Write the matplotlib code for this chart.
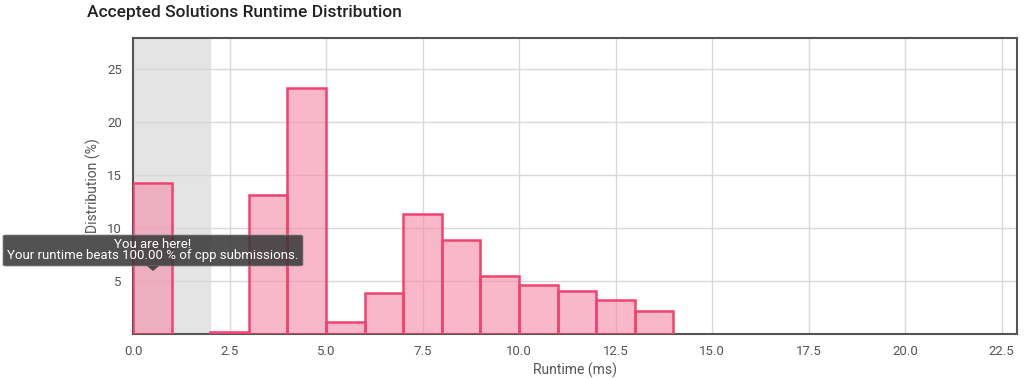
import matplotlib
matplotlib.use('Agg')
import matplotlib.pyplot as plt
from matplotlib.patches import FancyBboxPatch, Polygon

plt.rcParams['font.family'] = ['Roboto', 'DejaVu Sans']

bin_left = [0, 2, 3, 4, 5, 6, 7, 8, 9, 10, 11, 12, 13]
dist = [14.2, 0.15, 13.1, 23.2, 1.15, 3.9, 11.3, 8.85, 5.5, 4.6, 4.1, 3.25, 2.15]
x_ticks = [0.0, 2.5, 5.0, 7.5, 10.0, 12.5, 15.0, 17.5, 20.0, 22.5]
y_ticks = [5, 10, 15, 20, 25]

fig = plt.figure(figsize=(10.24, 3.78), dpi=100)
ax = fig.add_axes([0.1299, 0.1164, 0.8633, 0.7831])

ax.axvspan(0, 2, color='#e4e4e4', zorder=0)
# fill and outline drawn separately so the outline stays solid
ax.bar(bin_left, dist, width=1.0, align='edge', color='#f48aa8', alpha=0.6,
       linewidth=0, zorder=2)
ax.bar(bin_left, dist, width=1.0, align='edge', color='none',
       edgecolor='#f2426f', linewidth=1.8, zorder=3)

ax.set_xlim(0, 22.9)
ax.set_ylim(0, 27.9)
ax.set_xticks(x_ticks)
ax.set_xticklabels(['%.1f' % t for t in x_ticks])
ax.set_yticks(y_ticks)
ax.grid(True, color='#d9d9d9', linewidth=1.0, zorder=1)
ax.set_axisbelow(True)
ax.tick_params(length=0, labelsize=9.5, colors='#555555', pad=8)
for s in ax.spines.values():
    s.set_color('#555555')
    s.set_linewidth(1.5)

ax.set_xlabel('Runtime (ms)', fontsize=10, color='#555555', labelpad=3)
ax.set_ylabel('Distribution (%)', fontsize=10, color='#555555', labelpad=4)
fig.text(87 / 1024, 1 - 13 / 378, 'Accepted Solutions Runtime Distribution',
         fontsize=12.5, color='#222222', fontweight='medium', va='center', ha='left')

# tooltip
box = FancyBboxPatch((3 / 1024, 1 - 266 / 378), 300 / 1024, 31 / 378,
                     boxstyle='round,pad=0,rounding_size=0.003',
                     transform=fig.transFigure, facecolor='#3a3a3a', alpha=0.88,
                     edgecolor='#888888', linewidth=0.6, zorder=10)
fig.patches.append(box)
tri = Polygon([(147 / 1024, 1 - 266 / 378), (159 / 1024, 1 - 266 / 378),
               (153 / 1024, 1 - 271 / 378)], closed=True, transform=fig.transFigure,
              facecolor='#3a3a3a', alpha=0.88, edgecolor='none', zorder=10)
fig.patches.append(tri)
fig.text(153 / 1024, 1 - 244 / 378, 'You are here!', fontsize=9.5, color='white',
         ha='center', va='center', zorder=11)
fig.text(153 / 1024, 1 - 256 / 378, 'Your runtime beats 100.00 % of cpp submissions.',
         fontsize=9.5, color='white', ha='center', va='center', zorder=11)

fig.savefig('out.png', dpi=100)
